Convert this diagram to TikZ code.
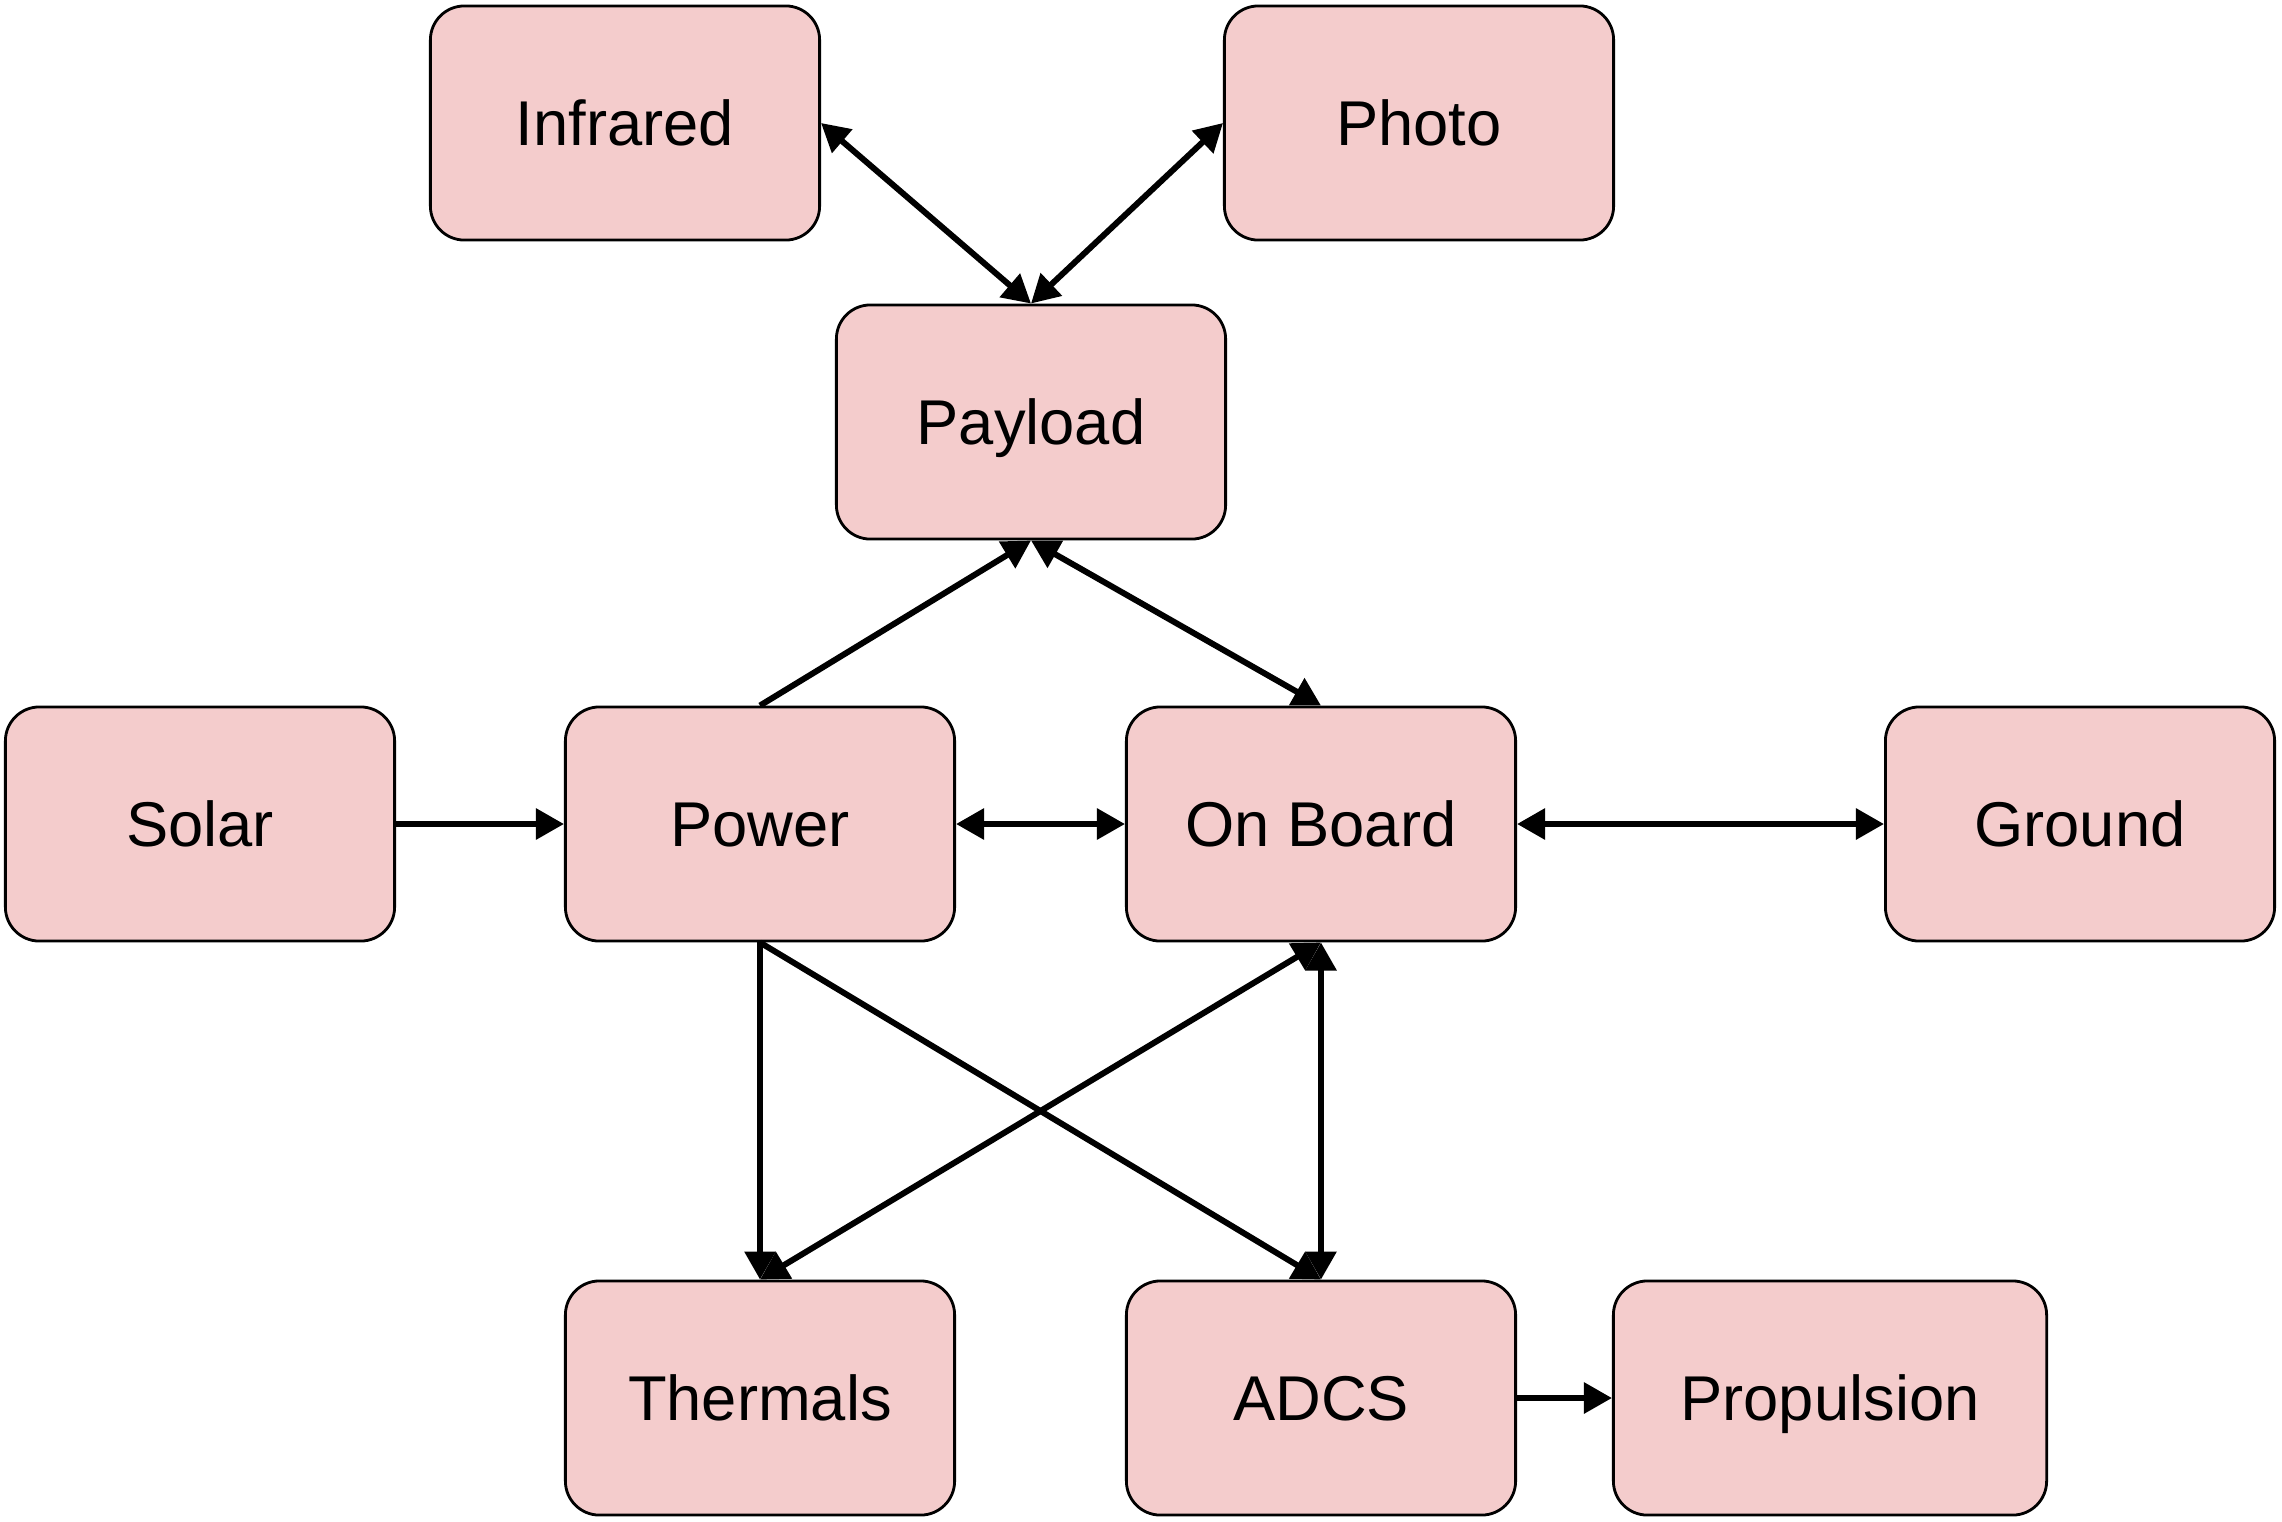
\documentclass[tikz,border=0pt]{standalone}
\usepackage{fontspec}
\setmainfont{Liberation Sans}
\usetikzlibrary{arrows.meta}

\definecolor{boxpink}{HTML}{F4CCCC}

\begin{document}
\begin{tikzpicture}[x=0.01cm, y=-0.01cm, every node/.style={font=\fontsize{18}{22}\selectfont},
	blk/.style={draw, fill=boxpink, line width=0.8pt, rounded corners=0.34cm, minimum width=3.89cm, minimum height=2.34cm, text height=12.9pt, text depth=0pt, inner sep=0pt},
	link/.style={line width=1.7pt}, >={Triangle[length=2.8mm, width=3mm]}]
	\useasboundingbox (0,0) rectangle (2282,1521);
	\node[blk] (infrared) at (625,123) {Infrared};
	\node[blk] (photo) at (1419,123) {Photo};
	\node[blk] (payload) at (1031,422) {Payload};
	\node[blk] (solar) at (200,824) {Solar};
	\node[blk] (power) at (760,824) {Power};
	\node[blk] (onboard) at (1321,824) {On Board};
	\node[blk] (ground) at (2080,824) {Ground};
	\node[blk] (thermals) at (760,1398) {Thermals};
	\node[blk] (adcs) at (1321,1398) {ADCS};
	\node[blk, minimum width=4.33cm] (propulsion) at (1830,1398) {Propulsion};
	\draw[<->, link] (infrared.east) -- (payload.north);
	\draw[<->, link] (photo.west) -- (payload.north);
	\draw[->, link] (power.north) -- (payload.south);
	\draw[<->, link] (payload.south) -- (onboard.north);
	\draw[->, link] (solar) -- (power);
	\draw[<->, link] (power) -- (onboard);
	\draw[<->, link] (onboard) -- (ground);
	\draw[->, link] (power.south) -- (thermals.north);
	\draw[->, link] (power.south) -- (adcs.north);
	\draw[<->, link] (onboard.south) -- (thermals.north);
	\draw[<->, link] (onboard.south) -- (adcs.north);
	\draw[->, link] (adcs) -- (propulsion);
\end{tikzpicture}
\end{document}
